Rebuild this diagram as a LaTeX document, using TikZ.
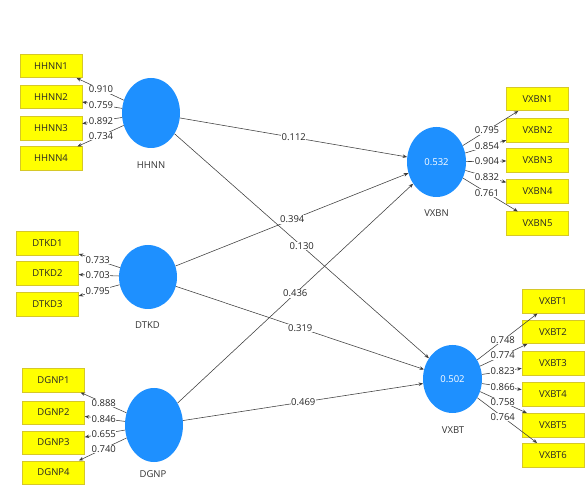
\documentclass[tikz,border=0pt]{standalone}
\usepackage{fontspec}
\setmainfont{Open Sans}
\usetikzlibrary{shapes.geometric,arrows.meta,calc}
\definecolor{lvblue}{RGB}{30,144,255}
\definecolor{mvyellow}{RGB}{255,255,0}
\definecolor{mvborder}{RGB}{214,200,40}
\definecolor{linegray}{RGB}{60,60,60}
\begin{document}
\begin{tikzpicture}[x=1pt,y=-1pt,
  font=\fontsize{9.5}{11}\selectfont,
  latent/.style={ellipse,fill=lvblue,draw=none,inner sep=0pt,text=white},
  indic/.style={rectangle,fill=mvyellow,draw=mvborder,line width=0.5pt,minimum width=62pt,minimum height=23.5pt,inner sep=0pt,text=black!85},
  lvname/.style={text=black!80,inner sep=1pt},
  conn/.style={draw=linegray,line width=0.55pt,-{Stealth[length=4.5pt,width=3.5pt]}},
  coef/.style={fill=white,inner sep=0.6pt,text=black!85}
]
\useasboundingbox (0,0) rectangle (587,489);
\fill[white] (0,0) rectangle (587,489);

% latent variables
\node[latent,minimum width=58pt,minimum height=70pt] (HHNN) at (151,113) {};
\node[latent,minimum width=58pt,minimum height=64pt] (DTKD) at (148,277) {};
\node[latent,minimum width=58pt,minimum height=74pt] (DGNP) at (154,425) {};
\node[latent,minimum width=59pt,minimum height=70pt] (VXBN) at (436.5,162) {0.532};
\node[latent,minimum width=59pt,minimum height=68pt] (VXBT) at (452.5,379) {0.502};

\node[lvname] (HHNNl) at (151,165) {HHNN};
\node[lvname] (DTKDl) at (147.5,325) {DTKD};
\node[lvname] (DGNPl) at (153,474) {DGNP};
\node[lvname] (VXBNl) at (436.5,213) {VXBN};
\node[lvname] (VXBTl) at (453,430) {VXBT};

% indicators
\foreach \i/\y in {1/66,2/97,3/128.5,4/158.5} \node[indic] (HHNN\i) at (51,\y) {HHNN\i};
\foreach \i/\y in {1/243.5,2/273.5,3/304.5} \node[indic] (DTKD\i) at (47.5,\y) {DTKD\i};
\foreach \i/\y in {1/380.5,2/412.5,3/442.5,4/472.5} \node[indic] (DGNP\i) at (53.5,\y) {DGNP\i};
\foreach \i/\y in {1/99,2/130.5,3/160.5,4/191.5,5/223.5} \node[indic] (VXBN\i) at (537.5,\y) {VXBN\i};
\foreach \i/\y in {1/301.5,2/332,3/363.5,4/394.5,5/425,6/455} \node[indic] (VXBT\i) at (553,\y) {VXBT\i};

% outer loadings
\foreach \lv/\i/\v in {HHNN/1/0.910,HHNN/2/0.759,HHNN/3/0.892,HHNN/4/0.734,
  DTKD/1/0.733,DTKD/2/0.703,DTKD/3/0.795,
  DGNP/1/0.888,DGNP/2/0.846,DGNP/3/0.655,DGNP/4/0.740,
  VXBN/1/0.795,VXBN/2/0.854,VXBN/3/0.904,VXBN/4/0.832,VXBN/5/0.761,
  VXBT/1/0.748,VXBT/2/0.774,VXBT/3/0.823,VXBT/4/0.866,VXBT/5/0.758,VXBT/6/0.764}{
  \draw[conn] (\lv) -- (\lv\i);
  \node[coef] (L\lv\i) at ($(\lv)!0.5!(\lv\i)$) {\v};
}

% path coefficients
\foreach \a/\b/\v in {HHNN/VXBN/0.112,DTKD/VXBN/0.394,DGNP/VXBN/0.436,
  HHNN/VXBT/0.130,DTKD/VXBT/0.319,DGNP/VXBT/0.469}{
  \draw[conn] (\a) -- (\b);
}
\foreach \a/\b/\v in {HHNN/VXBN/0.112,DTKD/VXBN/0.394,DGNP/VXBN/0.436,
  HHNN/VXBT/0.130,DTKD/VXBT/0.319,DGNP/VXBT/0.469}{
  \node[coef] (P\a\b) at ($(\a)!0.5!(\b)$) {\v};
}
\end{tikzpicture}
\end{document}
